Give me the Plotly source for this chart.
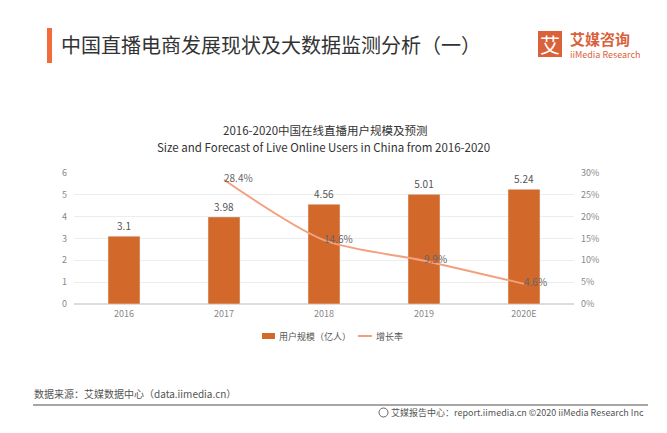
import plotly.graph_objects as go

years = ["2016", "2017", "2018", "2019", "2020E"]
users = [3.1, 3.98, 4.56, 5.01, 5.24]
growth_years = ["2017", "2018", "2019", "2020E"]
growth = [28.4, 14.6, 9.9, 4.6]
user_labels = ["3.1", "3.98", "4.56", "5.01", "5.24"]
growth_labels = ["28.4%", "14.6%", "9.9%", "4.6%"]

W, H = 667, 433
FONT = "Noto Sans CJK SC, Noto Sans, sans-serif"
BAR = "#D2692A"
LINE = "#F4A07E"

def px(x):
    return x / W

def py(y):
    return 1 - y / H

fig = go.Figure()
fig.add_trace(go.Bar(
    x=years, y=users, name="用户规模（亿人）", marker_color=BAR, width=0.32,
    text=user_labels, textposition="outside", cliponaxis=False,
    textfont=dict(size=10, color="#555555"), yaxis="y", showlegend=False,
))
fig.add_trace(go.Scatter(
    x=growth_years, y=growth, name="增长率", mode="lines+text",
    line=dict(color=LINE, width=2, shape="spline", smoothing=0.8),
    text=growth_labels, textposition="middle right", cliponaxis=False,
    textfont=dict(size=10, color="#666666"), yaxis="y2", showlegend=False,
))

fig.update_layout(
    width=W, height=H, margin=dict(l=0, r=0, t=0, b=0, pad=0, autoexpand=False),
    paper_bgcolor="white", plot_bgcolor="white",
    font=dict(family=FONT, color="#555555"),
    showlegend=False,
    xaxis=dict(domain=[px(74), px(574)], showline=False, showgrid=False, ticks="", automargin=False,
               tickfont=dict(size=9, color="#888888"), type="category", ticklabelstandoff=3),
    yaxis=dict(domain=[py(304), py(172.7)], range=[0, 6], dtick=1, automargin=False,
               showgrid=True, gridcolor="#EDEDED", gridwidth=1, zeroline=True, zerolinecolor="#DDDDDD",
               showline=False, tickfont=dict(size=9, color="#888888"), ticks="", ticklabelstandoff=6),
    yaxis2=dict(overlaying="y", side="right", range=[0, 30], dtick=5, ticksuffix="%", automargin=False,
                showgrid=False, zeroline=False, showline=False,
                tickfont=dict(size=9, color="#888888"), ticks="", anchor="x", ticklabelstandoff=6),
)

ann = [
    dict(text="2016-2020中国在线直播用户规模及预测", x=px(325), y=py(130), font=dict(size=11.5, color="#333333")),
    dict(text="Size and Forecast of Live Online Users in China from 2016-2020", x=px(323), y=py(147), font=dict(size=11.5, color="#333333")),
    dict(text="中国直播电商发展现状及大数据监测分析（一）", x=px(59), y=py(44), xanchor="left", font=dict(size=20, color="#333333")),
    dict(text="艾", x=px(550), y=py(44), font=dict(size=20, color="white")),
    dict(text="<b>艾媒咨询</b>", x=px(568), y=py(39), xanchor="left", font=dict(size=15, color="#D9623A")),
    dict(text="iiMedia Research", x=px(568), y=py(55), xanchor="left", font=dict(size=9, color="#D9623A")),
    dict(text="用户规模（亿人）", x=px(277), y=py(336), xanchor="left", font=dict(size=9, color="#555555")),
    dict(text="增长率", x=px(374), y=py(336), xanchor="left", font=dict(size=9, color="#555555")),
    dict(text="数据来源：艾媒数据中心（data.iimedia.cn）", x=px(32), y=py(393), xanchor="left", font=dict(size=10, color="#555555")),
    dict(text="艾媒报告中心：report.iimedia.cn ©2020 iiMedia Research Inc", x=px(646), y=py(412), xanchor="right", font=dict(size=9, color="#555555")),
]
for a in ann:
    a.setdefault("xanchor", "center")
    fig.add_annotation(xref="paper", yref="paper", showarrow=False, yanchor="middle", **a)

shapes = [
    dict(type="rect", x0=px(47), x1=px(52), y0=py(28), y1=py(63), fillcolor="#F26B3A", line_width=0),
    dict(type="rect", x0=px(538), x1=px(562), y0=py(31), y1=py(57), fillcolor="#D9623A", line_width=0),
    dict(type="rect", x0=px(262), x1=px(275), y0=py(339), y1=py(333), fillcolor=BAR, line_width=0),
    dict(type="line", x0=px(358), x1=px(372), y0=py(336), y1=py(336), line=dict(color=LINE, width=2)),
    dict(type="line", x0=px(33), x1=px(648), y0=py(405), y1=py(405), line=dict(color="#888888", width=1.5)),
    dict(type="circle", x0=px(379), x1=px(388), y0=py(408), y1=py(417), line=dict(color="#666666", width=1)),
]
for s in shapes:
    fig.add_shape(xref="paper", yref="paper", **s)

post = (
    "var d=document.getElementById('{plot_id}');"
    "d.style.position='fixed';d.style.top='0';d.style.left='0';"
    "document.documentElement.style.margin='0';document.body.style.margin='0';"
    "document.documentElement.style.height='433px';document.body.style.height='433px';"
    "document.documentElement.style.overflow='hidden';document.body.style.overflow='hidden';"
)
fig.write_html("out.html", config={"displayModeBar": False}, post_script=post)
